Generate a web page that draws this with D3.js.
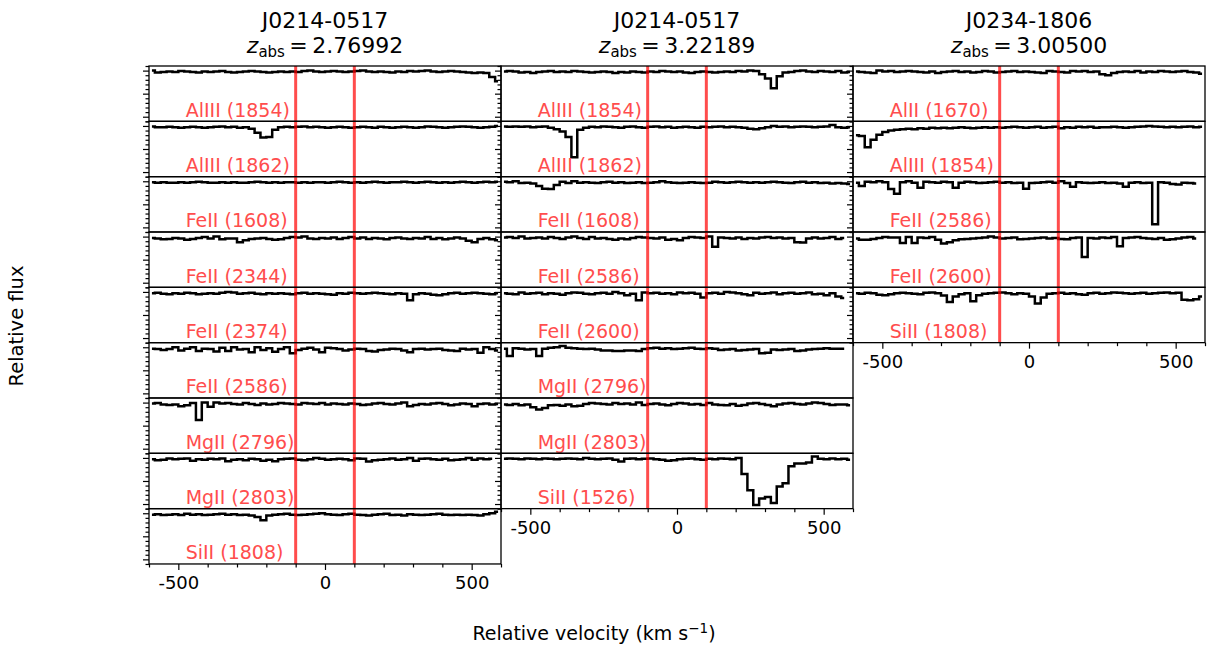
<!DOCTYPE html>
<html>
<head>
<meta charset="utf-8">
<script src="https://cdn.jsdelivr.net/npm/d3@7/dist/d3.min.js"></script>
<style>
  body { margin: 0; background: #fff; }
  text { font-family: "DejaVu Sans", sans-serif; }
</style>
</head>
<body>
<div id="container"></div>
<script>
// Column titles
const systems = ["J0214-0517", "J0214-0517", "J0234-1806"];
const redshifts = ["2.76992", "3.22189", "3.00500"];

// Transition labels per column
const col1Labels = ["AlIII (1854)", "AlIII (1862)", "FeII (1608)", "FeII (2344)", "FeII (2374)",
  "FeII (2586)", "MgII (2796)", "MgII (2803)", "SiII (1808)"];
const col2Labels = ["AlIII (1854)", "AlIII (1862)", "FeII (1608)", "FeII (2586)", "FeII (2600)",
  "MgII (2796)", "MgII (2803)", "SiII (1526)"];
const col3Labels = ["AlII (1670)", "AlIII (1854)", "FeII (2586)", "FeII (2600)", "SiII (1808)"];

// Velocity grid: bin centres start at -590 km/s, 20 km/s bins
const velStart = -590;
const binWidth = 20;

// Relative flux (x100) per panel
const col1Flux = [
  [100,96,97,98,97,99,98,97,96,98,97,98,99,97,96,97,98,99,98,97,96,97,98,97,98,97,99,100,98,97,98,99,98,97,98,99,100,98,97,98,97,96,98,97,99,98,99,100,98,97,98,99,98,97,96,95,96,95,86,77],
  [99,97,97,98,97,96,97,98,97,96,97,98,99,97,98,96,97,94,85,75,76,92,97,98,97,98,99,97,98,97,96,97,98,97,96,97,98,97,96,98,97,96,97,98,97,96,97,99,98,97,96,97,98,99,98,97,96,97,98,100],
  [98,97,98,97,97,98,97,98,99,98,97,97,98,97,98,97,97,98,99,98,97,98,97,98,98,97,98,97,98,98,97,98,99,98,97,98,97,98,99,98,97,98,98,99,98,97,98,99,98,97,98,97,98,99,98,97,98,99,98,99],
  [97,96,94,95,97,96,93,95,97,99,96,100,94,96,96,88,92,95,96,97,95,93,94,97,99,98,100,96,95,97,96,98,95,97,99,96,98,95,97,96,94,97,98,96,95,97,96,99,95,97,94,96,98,96,91,88,95,97,94,92],
  [97,98,96,95,97,96,98,97,95,96,97,96,98,100,99,96,97,98,96,95,97,96,97,96,95,97,98,96,97,96,95,94,97,96,98,97,96,97,98,97,96,95,97,96,82,95,97,96,94,93,95,97,98,96,97,98,97,96,95,97],
  [97,96,94,96,100,93,97,100,92,97,96,91,99,92,100,95,96,89,100,94,98,90,96,100,87,94,97,99,95,89,99,98,96,93,95,97,96,92,91,94,95,97,96,93,89,96,97,95,96,97,94,93,92,97,95,96,88,100,96,93],
  [98,99,96,95,96,92,94,99,62,100,91,100,98,99,97,96,99,97,95,98,96,97,99,98,97,96,99,98,97,99,96,98,97,96,98,97,95,96,98,99,97,96,98,100,92,95,97,96,98,99,97,94,96,98,97,92,97,98,96,97],
  [97,95,96,99,97,98,99,94,97,96,98,97,99,93,96,97,95,98,97,94,96,93,97,98,99,96,95,97,100,98,96,97,98,97,95,99,98,92,95,96,97,99,96,97,100,94,98,99,97,96,98,95,96,97,100,96,99,97,98],
  [97,98,96,97,98,96,99,97,98,96,97,98,99,97,98,96,97,95,92,85,95,97,98,99,97,96,97,98,99,100,98,97,96,98,99,97,96,95,97,98,99,96,97,95,98,97,96,97,98,99,97,96,97,96,97,96,95,98,100,103]
];
const col2Flux = [
  [98,99,98,96,97,95,97,98,99,97,98,97,99,98,97,96,97,98,97,95,97,96,98,97,96,98,97,99,98,97,98,96,95,97,98,97,96,97,98,97,99,98,100,99,92,83,62,88,96,97,99,100,98,97,99,98,97,99,96,97],
  [99,98,99,98,99,97,98,99,96,93,88,76,32,92,96,98,97,99,98,97,96,98,99,97,96,98,99,97,98,96,97,98,97,96,98,97,98,99,97,98,97,96,94,93,95,97,100,98,99,97,98,99,98,97,98,99,102,97,96,97],
  [99,98,100,96,97,95,90,84,83,92,99,96,100,97,98,97,96,98,99,97,98,96,97,98,96,97,98,100,98,97,96,97,98,97,96,97,99,98,97,98,99,98,97,98,97,98,99,98,97,96,98,99,97,98,96,97,95,96,95,94],
  [98,99,97,100,96,97,98,96,99,97,95,98,100,97,95,99,96,97,95,93,96,94,97,99,98,97,96,98,93,95,92,97,99,98,97,100,78,98,97,96,98,95,97,96,98,99,97,98,96,97,88,87,96,98,96,97,99,95,97],
  [97,96,95,99,96,97,98,95,97,96,94,97,99,98,96,95,97,98,96,100,97,93,96,82,99,97,98,96,97,95,99,97,98,96,88,97,98,96,100,99,97,95,93,98,96,97,99,95,97,98,96,97,99,95,96,93,97,90,87],
  [97,81,98,97,95,96,81,97,99,100,103,99,98,97,96,97,95,93,93,92,92,93,93,92,96,98,99,97,98,96,97,98,99,97,96,98,97,94,95,96,93,94,95,96,87,88,95,94,95,96,92,93,95,96,97,98,97,97,97],
  [96,95,97,94,96,90,85,88,94,95,93,96,92,93,97,99,98,97,96,99,97,98,96,100,95,97,98,96,94,97,99,98,96,97,95,99,96,95,94,97,93,95,98,99,97,95,92,96,98,99,97,96,98,100,99,97,95,96,96,94],
  [98,99,98,97,99,98,97,99,98,97,98,99,98,97,100,98,97,98,99,96,92,98,99,97,98,99,97,96,94,95,97,98,99,97,96,98,97,99,98,97,100,65,30,-2,12,15,2,38,45,82,88,88,90,103,98,97,99,97,98,96]
];
const col3Flux = [
  [98,97,96,95,100,98,99,97,98,99,98,97,96,98,95,97,98,99,97,98,96,97,99,98,96,97,98,99,97,98,97,96,95,99,98,97,96,99,98,99,97,98,92,90,95,97,98,97,99,96,98,97,99,98,97,98,99,97,96,93],
  [80,78,54,70,81,87,90,92,93,94,93,95,94,96,95,96,95,96,97,96,95,96,97,96,97,96,97,98,97,96,97,98,96,97,98,95,97,96,98,97,98,96,97,97,98,97,96,97,98,99,100,99,98,97,98,97,98,99,97,98],
  [97,90,99,98,100,98,83,73,98,100,97,86,99,98,97,99,98,86,97,99,98,96,97,98,99,97,98,96,97,84,96,97,98,99,97,100,96,88,98,97,96,97,98,96,97,95,88,97,98,96,97,7,98,97,94,93,97,96,95],
  [96,93,93,95,97,99,98,98,86,99,86,98,97,99,93,85,88,92,94,95,96,97,98,100,98,96,97,98,94,95,96,97,98,96,97,95,94,97,98,56,97,96,98,97,99,79,97,98,99,97,96,95,97,93,94,96,98,99,96],
  [97,96,98,97,94,93,95,97,98,97,96,95,98,99,97,92,78,90,95,97,80,93,96,97,98,99,97,95,97,96,90,75,88,96,97,98,96,97,95,94,97,98,96,97,99,98,97,96,97,98,96,97,98,99,97,98,83,82,84,90]
];

// Axis settings
const velDomain = [-600, 600];
const fluxDomain = [-0.1, 1.1];
const velTicks = [-500, 0, 500];
const velMinor = [-600, -400, -300, -200, -100, 100, 200, 300, 400, 600];
const fluxTicks = [0, 0.5, 1.0];
const fluxMinor = [-0.1, 0.1, 0.2, 0.3, 0.4, 0.6, 0.7, 0.8, 0.9, 1.1];
const markers = [-100, 100];

const width = 1209, height = 650;
const plotLeft = 149, plotTop = 66, colW = 352, rowH = 55.33;
const red = "rgb(255,77,77)";

const svg = d3.select("#container").append("svg")
  .attr("width", width).attr("height", height);

const columns = [
  { labels: col1Labels, flux: col1Flux },
  { labels: col2Labels, flux: col2Flux },
  { labels: col3Labels, flux: col3Flux }
];

const x = d3.scaleLinear().domain(velDomain).range([0, colW]);
const y = d3.scaleLinear().domain(fluxDomain).range([rowH, 0]);

const line = d3.line()
  .x((d, i) => x(velStart + i * binWidth))
  .y(d => y(d / 100))
  .curve(d3.curveStep);

columns.forEach((col, c) => {
  const cx = plotLeft + c * colW;
  const colG = svg.append("g").attr("transform", `translate(${cx},0)`);

  // title
  const title = colG.append("text")
    .attr("text-anchor", "middle")
    .style("font-size", "22px").attr("fill", "#000");
  title.append("tspan").attr("x", colW / 2).attr("y", 28).text(systems[c]);
  const t2 = title.append("tspan").attr("x", colW / 2).attr("y", 53);
  t2.append("tspan").style("font-style", "italic").text("z");
  t2.append("tspan").style("font-size", "15px").attr("dy", 4).text("abs");
  t2.append("tspan").attr("dy", -4).text("\u2009=\u2009" + redshifts[c]);

  const nRows = col.flux.length;

  col.flux.forEach((flux, r) => {
    const g = colG.append("g").attr("transform", `translate(0,${plotTop + r * rowH})`);

    const clipId = `clip-${c}-${r}`;
    g.append("clipPath").attr("id", clipId)
      .append("rect").attr("width", colW).attr("height", rowH);

    g.append("path")
      .datum(flux)
      .attr("d", line)
      .attr("fill", "none")
      .attr("stroke", "#000")
      .attr("stroke-width", 2.5)
      .attr("clip-path", `url(#${clipId})`);

    g.selectAll("line.marker")
      .data(markers)
      .join("line")
      .attr("class", "marker")
      .attr("x1", d => x(d)).attr("x2", d => x(d))
      .attr("y1", 0).attr("y2", rowH)
      .attr("stroke", "#ff0000").attr("stroke-opacity", 0.7)
      .attr("stroke-width", 3);

    g.append("text")
      .attr("x", x(-475)).attr("y", y(0))
      .attr("fill", red)
      .style("font-size", "19px")
      .text(col.labels[r]);

    // y ticks
    g.append("g")
      .call(d3.axisLeft(y).tickValues(fluxTicks).tickSize(6).tickFormat(""))
      .call(a => a.select(".domain").remove());
    g.append("g")
      .call(d3.axisLeft(y).tickValues(fluxMinor).tickSize(3.5).tickFormat(""))
      .call(a => a.select(".domain").remove());

    g.append("rect")
      .attr("width", colW).attr("height", rowH)
      .attr("fill", "none").attr("stroke", "#000").attr("stroke-width", 1.3);

    if (r === nRows - 1) {
      const ax = g.append("g").attr("transform", `translate(0,${rowH})`);
      ax.call(d3.axisBottom(x).tickValues(velTicks).tickSize(6)
          .tickFormat(d => d < 0 ? "-" + Math.abs(d) : String(d)))
        .call(a => a.select(".domain").remove())
        .call(a => a.selectAll("text")
          .style("font-size", "18px").attr("y", 10).attr("dy", "0.85em")
          .style("font-family", "DejaVu Sans, sans-serif"));
      ax.append("g")
        .call(d3.axisBottom(x).tickValues(velMinor).tickSize(3.5).tickFormat(""))
        .call(a => a.select(".domain").remove());
    }
    g.selectAll(".tick line").attr("stroke-width", 1.2);
  });
});

// axis titles
svg.append("text")
  .attr("transform", "translate(23,326) rotate(-90)")
  .attr("text-anchor", "middle")
  .style("font-size", "19.5px")
  .text("Relative flux");

const xl = svg.append("text")
  .attr("x", 594).attr("y", 640)
  .attr("text-anchor", "middle")
  .style("font-size", "19px");
xl.append("tspan").text("Relative velocity (km s");
xl.append("tspan").attr("dy", -7).style("font-size", "13.5px").text("\u22121");
xl.append("tspan").attr("dy", 7).text(")");
</script>
</body>
</html>
